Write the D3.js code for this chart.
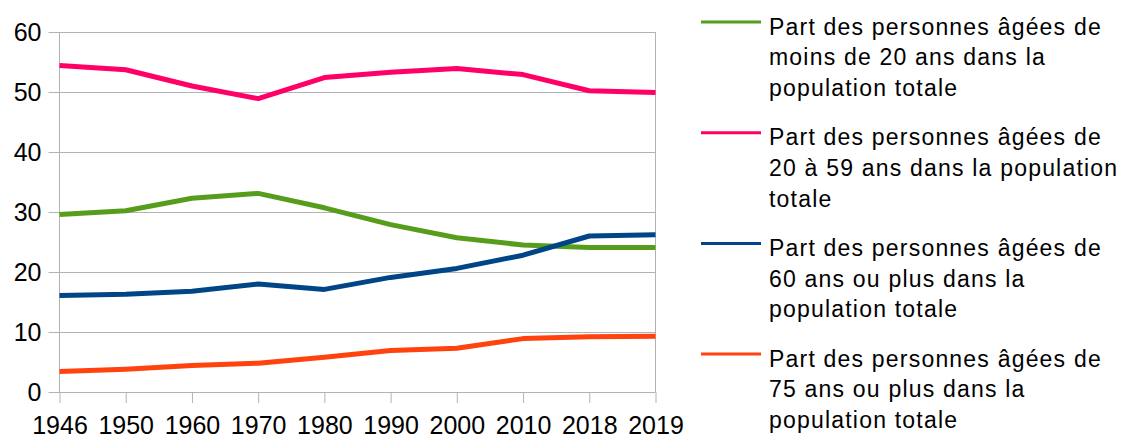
<!DOCTYPE html>
<html>
<head>
<meta charset="utf-8">
<script src="https://cdn.jsdelivr.net/npm/d3@7"></script>
<style>
  body { margin: 0; background: #fff; }
  svg { font-family: "Liberation Sans", Arial, sans-serif; }
  .tick text { fill: #000; }
</style>
</head>
<body>
<svg id="vis" width="1127" height="438"></svg>
<script>
var years = ["1946", "1950", "1960", "1970", "1980", "1990", "2000", "2010", "2018", "2019"];
var moins20 = [29.6, 30.2, 32.3, 33.1, 30.7, 27.9, 25.7, 24.5, 24.1, 24.1];
var de20a59 = [54.4, 53.7, 51.0, 48.9, 52.4, 53.3, 53.9, 52.9, 50.2, 49.9];
var plus60 = [16.1, 16.3, 16.8, 18.0, 17.1, 19.1, 20.6, 22.8, 26.0, 26.2];
var plus75 = [3.4, 3.8, 4.4, 4.8, 5.8, 6.9, 7.3, 8.9, 9.2, 9.3];
var yTicks = [0, 10, 20, 30, 40, 50, 60];

var series = [
    { name: ["Part des personnes âgées de", "moins de 20 ans dans la", "population totale"], values: moins20, color: "#579d1c" },
    { name: ["Part des personnes âgées de", "20 à 59 ans dans la population", "totale"], values: de20a59, color: "#ff0066" },
    { name: ["Part des personnes âgées de", "60 ans ou plus dans la", "population totale"], values: plus60, color: "#004586" },
    { name: ["Part des personnes âgées de", "75 ans ou plus dans la", "population totale"], values: plus75, color: "#ff420e" }
];

var plot = { left: 59.5, right: 655.5, top: 32, bottom: 392 };
var gridColor = "#b3b3b3";
var fontFam = "Liberation Sans, Arial, sans-serif";

var svg = d3.select("#vis");

var x = d3.scalePoint()
    .domain(years)
    .range([plot.left, plot.right]);

var y = d3.scaleLinear()
    .domain([0, 60])
    .range([plot.bottom, plot.top]);

// grille horizontale
svg.append("g")
    .attr("transform", "translate(" + plot.left + ",0)")
    .call(d3.axisLeft(y).tickValues(yTicks).tickSize(-(plot.right - plot.left)).tickFormat(""))
    .call(g => g.select(".domain").remove())
    .selectAll("line")
    .attr("stroke", gridColor);

// axe y
var yAxis = svg.append("g")
    .attr("transform", "translate(" + plot.left + ",0)")
    .call(d3.axisLeft(y).tickValues(yTicks).tickSize(11).tickPadding(7));
yAxis.select(".domain").remove();
yAxis.selectAll("line").attr("stroke", gridColor);
yAxis.selectAll("text").attr("font-size", 25).attr("font-family", fontFam);

// axe x
var xAxis = svg.append("g")
    .attr("transform", "translate(0," + plot.bottom + ")")
    .call(d3.axisBottom(x).tickSize(11).tickPadding(13));
xAxis.select(".domain").remove();
xAxis.selectAll("line").attr("stroke", gridColor);
xAxis.selectAll("text").attr("font-size", 25).attr("font-family", fontFam);

// bords verticaux du graphique
svg.append("line")
    .attr("x1", plot.left).attr("x2", plot.left)
    .attr("y1", plot.top).attr("y2", plot.bottom)
    .attr("stroke", gridColor);
svg.append("line")
    .attr("x1", plot.right).attr("x2", plot.right)
    .attr("y1", plot.top).attr("y2", plot.bottom)
    .attr("stroke", gridColor);

// courbes
var line = d3.line()
    .x((d, i) => x(years[i]))
    .y(d => y(d));

svg.selectAll(".serie")
    .data(series)
    .enter()
    .append("path")
    .attr("class", "serie")
    .attr("fill", "none")
    .attr("stroke", d => d.color)
    .attr("stroke-width", 5)
    .attr("stroke-linejoin", "round")
    .attr("d", d => line(d.values));

// légende
var legend = svg.append("g")
    .attr("transform", "translate(701,22)");

var items = legend.selectAll("g")
    .data(series)
    .enter()
    .append("g")
    .attr("transform", (d, i) => "translate(0," + (i * 110.7) + ")");

items.append("line")
    .attr("x1", 0).attr("x2", 60)
    .attr("stroke", d => d.color)
    .attr("stroke-width", 3);

items.append("text")
    .attr("x", 68)
    .attr("y", 12.5)
    .attr("font-size", 23)
    .attr("letter-spacing", 1.2)
    .attr("fill", "#000")
    .selectAll("tspan")
    .data(d => d.name)
    .enter()
    .append("tspan")
    .attr("x", 68)
    .attr("dy", (d, i) => i === 0 ? 0 : 30.8)
    .text(d => d);
</script>
</body>
</html>
